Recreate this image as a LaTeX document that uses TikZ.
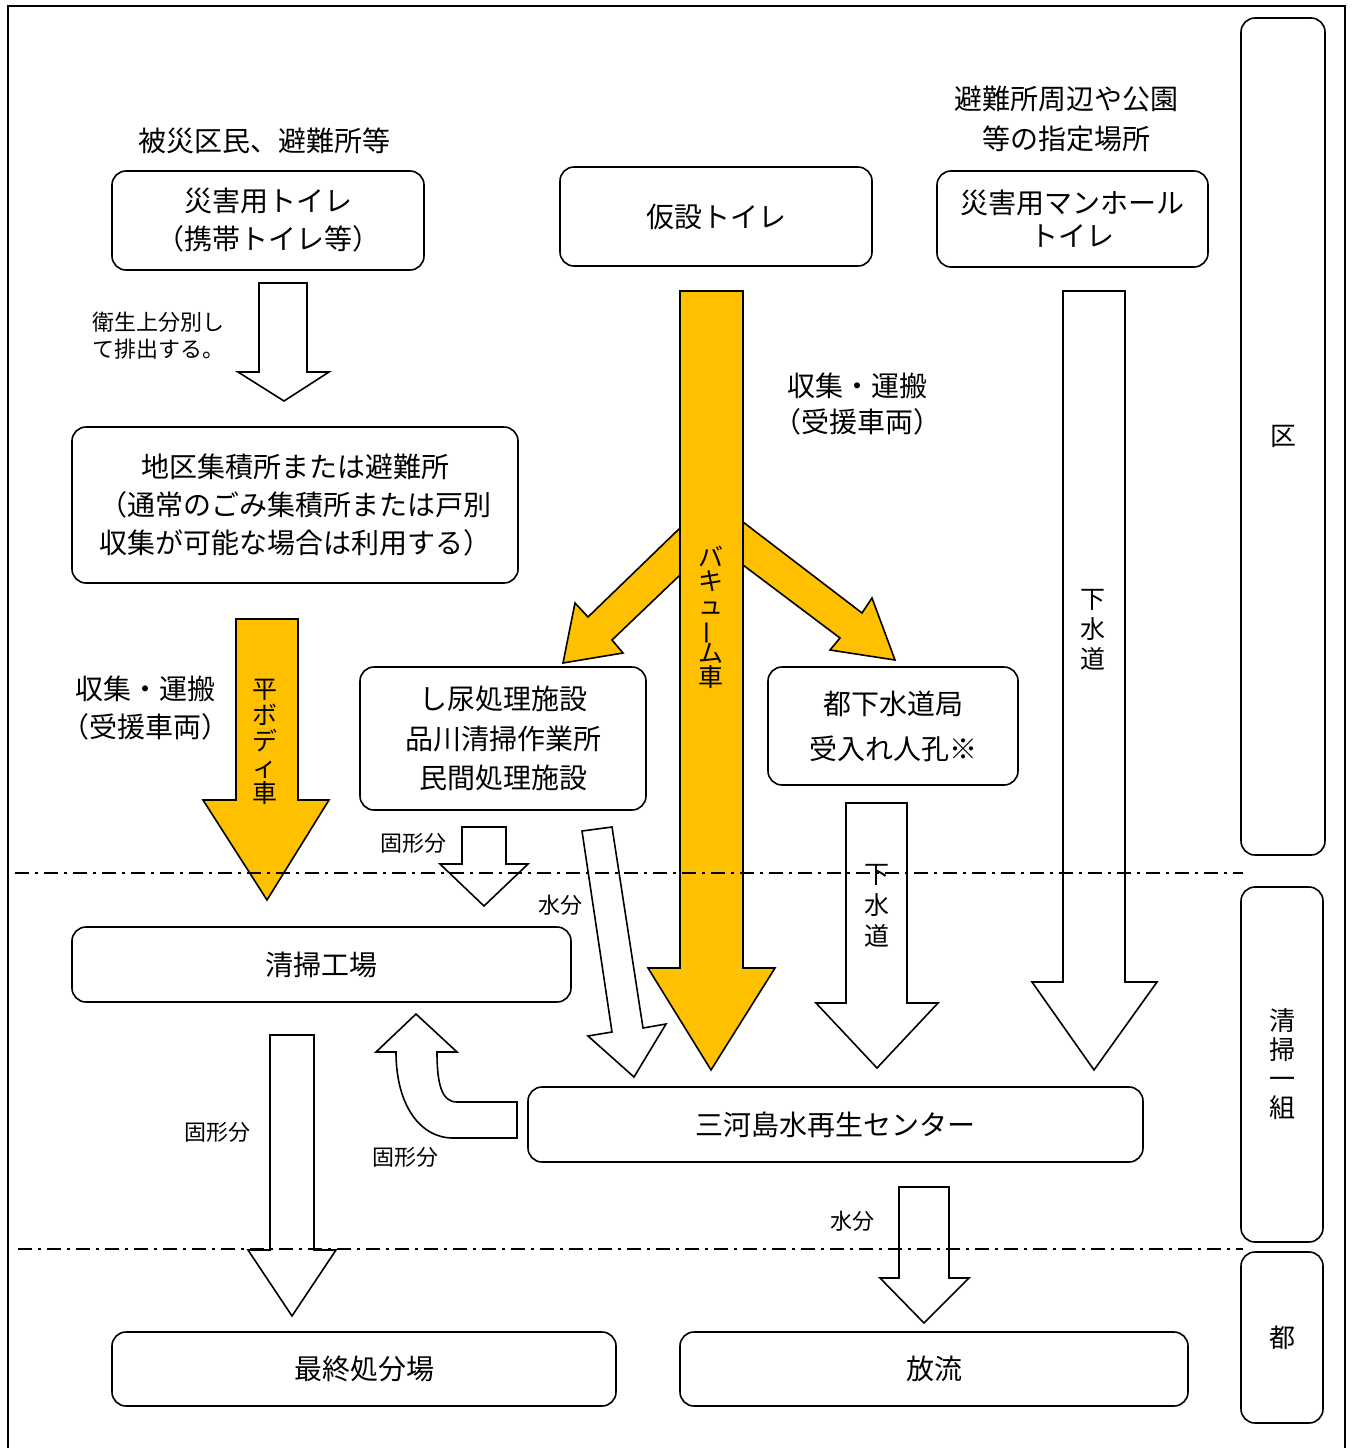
\documentclass[tikz,border=0pt]{standalone}
\usepackage{fontspec}
\setmainfont{Noto Sans CJK JP}
\definecolor{truckorange}{HTML}{FFC000}
\newcommand{\tightlines}{\lineskiplimit-50pt\relax}

\begin{document}
\begin{tikzpicture}[x=1pt,y=-1pt,
  box/.style={draw, line width=1.6pt, rounded corners=14pt, align=center, inner sep=0pt, font=\fontsize{28}{38}\selectfont},
  hollow/.style={draw, fill=white, line width=1.6pt},
  truck/.style={draw, fill=truckorange, line width=1.6pt},
  big/.style={align=center, inner sep=0pt, font=\fontsize{28}{38}\selectfont},
  small/.style={inner sep=0pt, font=\fontsize{22}{27}\selectfont},
  vert/.style={align=center, inner sep=0pt},
  zone/.style={dash pattern=on 14pt off 6pt on 3pt off 6pt, line width=1.5pt}]
\useasboundingbox (0,0) rectangle (1355,1448);
\draw[line width=2pt] (8,1470) -- (8,6) -- (1345,6) -- (1345,1470);

% facilities
\node[box, minimum width=312pt, minimum height=99pt] (portable) at (268,220.5) {災害用トイレ\\（携帯トイレ等）};
\node[box, minimum width=446pt, minimum height=156pt] (collect) at (295,505) {地区集積所または避難所\\（通常のごみ集積所または戸別\\収集が可能な場合は利用する）};
\node[box, minimum width=312pt, minimum height=99pt] (temp) at (716,216.5) {仮設トイレ};
\node[box, minimum width=271pt, minimum height=96pt, font=\fontsize{28}{33}\selectfont] (manhole) at (1072.5,219) {災害用マンホール\\トイレ};
\node[box, minimum width=286pt, minimum height=143pt, font=\fontsize{28}{39.5}\selectfont] (nightsoil) at (503,738.5) {し尿処理施設\\品川清掃作業所\\民間処理施設};
\node[box, minimum width=250pt, minimum height=118pt, font=\fontsize{28}{45}\selectfont] (sewerbureau) at (893,726) {都下水道局\\受入れ人孔※};
\node[box, minimum width=499pt, minimum height=75pt] (plant) at (321.5,964.5) {清掃工場};
\node[box, minimum width=615pt, minimum height=75pt] (mikawa) at (835.5,1124.5) {三河島水再生センター};
\node[box, minimum width=504pt, minimum height=74pt] (landfill) at (364,1369) {最終処分場};
\node[box, minimum width=508pt, minimum height=74pt] (release) at (934,1369) {放流};

% jurisdiction column
\node[box, minimum width=84pt, minimum height=837pt, font=\fontsize{26}{30}\selectfont] (ward) at (1283,436.5) {区};
\node[box, minimum width=82pt, minimum height=355pt, font={\fontsize{26}{29}\selectfont\tightlines}] (union) at (1282,1064.5) {清\\掃\\一\\組};
\node[box, minimum width=82pt, minimum height=171pt, font=\fontsize{26}{30}\selectfont] (metro) at (1282,1337.5) {都};

% labels
\node[big] (victims) at (264,141) {被災区民、避難所等};
\node[big, font=\fontsize{28}{40}\selectfont] (places) at (1066,119) {避難所周辺や公園\\等の指定場所};
\node[small, align=left, anchor=west] (separate) at (92,335.5) {衛生上分別し\\て排出する。};
\node[big] (transportL) at (145,708) {収集・運搬\\（受援車両）};
\node[big, font=\fontsize{28}{36}\selectfont] (transportR) at (857,404) {収集・運搬\\（受援車両）};

% hollow arrows
\draw[hollow] (259,283) -- (307,283) -- (307,372) -- (329,372) -- (284,401) -- (238,372) -- (259,372) -- cycle;
\draw[hollow] (462,827) -- (506,827) -- (506,864) -- (528,864) -- (484,906) -- (440,864) -- (462,864) -- cycle;
\draw[hollow] (582,831) -- (612,827) -- (643,1028) -- (666,1024) -- (634,1077) -- (588,1036) -- (612,1032) -- cycle;
\draw[hollow] (846,803) -- (907,803) -- (907,1003) -- (938,1003) -- (877,1068) -- (816,1003) -- (846,1003) -- cycle;
\draw[hollow] (1063,291) -- (1125,291) -- (1125,982) -- (1157,982) -- (1094,1070) -- (1032,982) -- (1063,982) -- cycle;
\draw[hollow] (270,1035) -- (314,1035) -- (314,1250) -- (336,1250) -- (292,1316) -- (248,1250) -- (270,1250) -- cycle;
\draw[hollow] (899,1187) -- (949,1187) -- (949,1278) -- (969,1278) -- (924,1323) -- (880,1278) -- (899,1278) -- cycle;
\draw[hollow] (517,1102) -- (457,1102) .. controls (442,1102) and (437,1085) .. (437,1052)
  -- (457,1052) -- (416,1014) -- (376,1052) -- (396,1052)
  .. controls (396,1105) and (420,1138) .. (453,1138) -- (517,1138) -- cycle;

% trucks
\draw[truck] (236,619) -- (298,619) -- (298,800) -- (329,800) -- (267,900) -- (203,800) -- (236,800) -- cycle;
\draw[truck] (680,528) -- (588,617) -- (575,603) -- (563,663) -- (623,653) -- (612,640) -- (680,575) -- cycle;
\draw[truck] (743,522) -- (862,613) -- (872,598) -- (895,660) -- (830,650) -- (840,638) -- (743,565) -- cycle;
\draw[truck] (680,291) -- (743,291) -- (743,968) -- (775,968) -- (711,1070) -- (648,968) -- (680,968) -- cycle;

% arrow texts
\node[vert, font={\fontsize{25}{26}\selectfont\tightlines}] (flatbed) at (265,742) {平\\ボ\\デ\\ィ\\車};
\node[vert, font={\fontsize{25}{24}\selectfont\tightlines}] (vacuum) at (711,617) {バ\\キ\\ュ\\\rotatebox[origin=c]{90}{ー}\\ム\\車};
\node[vert, font={\fontsize{25}{31}\selectfont\tightlines}] (sewerA) at (877,906) {下\\水\\道};
\node[vert, font={\fontsize{25}{30}\selectfont\tightlines}] (sewerB) at (1093,630) {下\\水\\道};
\node[small] (solidA) at (413,843) {固形分};
\node[small] (waterA) at (560,905) {水分};
\node[small] (solidB) at (217,1132) {固形分};
\node[small] (solidC) at (405,1157) {固形分};
\node[small] (waterB) at (852,1221) {水分};

% boundaries
\draw[zone] (15,873) -- (1243,873);
\draw[zone] (18,1249) -- (1243,1249);
\end{tikzpicture}
\end{document}
